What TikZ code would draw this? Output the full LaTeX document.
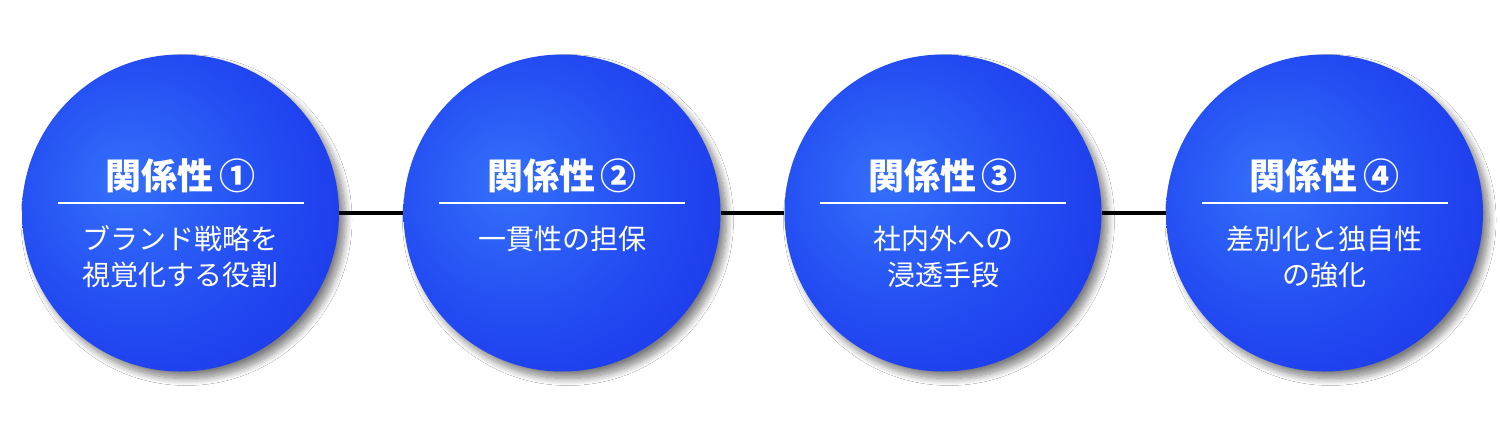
\documentclass[tikz,border=0pt]{standalone}
\usepackage{fontspec}
\newfontfamily\cjk{Noto Sans CJK JP}
\usetikzlibrary{shadows.blur}
\definecolor{bl}{RGB}{52,112,250}
\definecolor{bm}{RGB}{34,74,242}
\definecolor{bd}{RGB}{24,40,226}
\pgfdeclareradialshading{ballshade}{\pgfpoint{-9bp}{5bp}}{color(0bp)=(bl); color(22bp)=(bm); color(48bp)=(bd); color(75bp)=(bd)}
\tikzset{
  ball/.style={circle, minimum size=158.5pt, inner sep=0pt, draw=none, shade, shading=ballshade,
    blur shadow={shadow xshift=3pt, shadow yshift=-3.5pt, shadow blur radius=3.5pt, shadow blur steps=12, shadow opacity=50}},
  conn/.style={line width=2pt, black},
  divider/.style={line width=0.8pt, white},
  ttl/.style={anchor=base, inner sep=0pt, text=white, font=\cjk\bfseries\fontsize{18}{20}\selectfont},
  sub/.style={anchor=base, inner sep=0pt, text=white, font=\cjk\fontsize{14}{17}\selectfont},
}
\begin{document}
\begin{tikzpicture}[x=0.5pt,y=0.5pt]
\useasboundingbox[fill=white] (0,0) rectangle (1500,436);
% circles
\node[ball] (c1) at (180.5,223) {};
\node[ball] (c2) at (562,223) {};
\node[ball] (c3) at (943,223) {};
\node[ball] (c4) at (1324.5,223) {};
% connectors
\draw[conn] (c1) -- (c2);
\draw[conn] (c2) -- (c3);
\draw[conn] (c3) -- (c4);
% circle 1
\node[ttl] (t1) at (180.5,247) {関係性\hspace{3pt}①};
\draw[divider] (57.5,233) -- (303.5,233);
\node[sub] (s1a) at (180.5,187) {ブランド戦略を};
\node[sub] (s1b) at (180.5,151) {視覚化する役割};
% circle 2
\node[ttl] (t2) at (562,247) {関係性\hspace{3pt}②};
\draw[divider] (439,233) -- (685,233);
\node[sub] (s2a) at (562,187) {一貫性の担保};
% circle 3
\node[ttl] (t3) at (943,247) {関係性\hspace{3pt}③};
\draw[divider] (820,233) -- (1066,233);
\node[sub] (s3a) at (943,187) {社内外への};
\node[sub] (s3b) at (943,151) {浸透手段};
% circle 4
\node[ttl] (t4) at (1324.5,247) {関係性\hspace{3pt}④};
\draw[divider] (1201.5,233) -- (1447.5,233);
\node[sub] (s4a) at (1324.5,187) {差別化と独自性};
\node[sub] (s4b) at (1324.5,151) {の強化};
\end{tikzpicture}
\end{document}
